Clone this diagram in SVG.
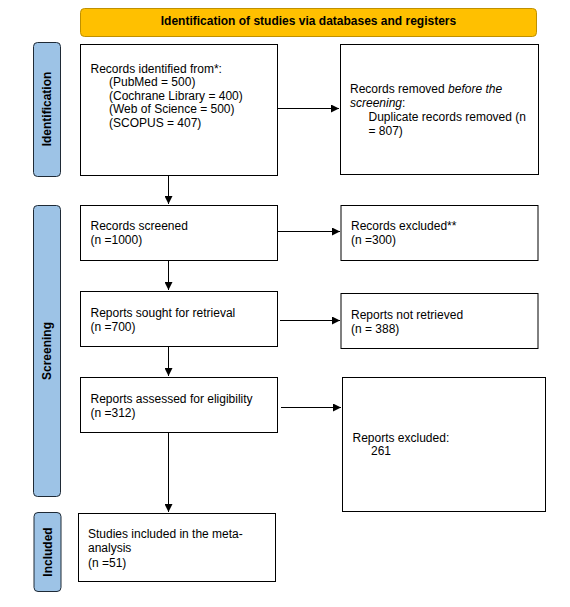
<svg xmlns="http://www.w3.org/2000/svg" width="570" height="607" viewBox="0 0 570 607">
<style>
text{font-family:"Liberation Sans",Arial,sans-serif;font-size:12px;fill:#000}
.b{font-weight:bold}
.box{fill:#fff;stroke:#000;stroke-width:1}
.side{fill:#9DC3E6;stroke:#1F2A36;stroke-width:1}
.hdr{fill:#FFC000;stroke:#BF9000;stroke-width:1}
.c{stroke:#000;stroke-width:1;fill:none;marker-end:url(#ah)}
</style>
<defs>
<marker id="ah" viewBox="0 0 10 10" refX="10" refY="5" markerWidth="9" markerHeight="8" markerUnits="userSpaceOnUse" orient="auto">
<path d="M0,0 L10,5 L0,10 z" fill="#000"/>
</marker>
</defs>
<g id="header">
<rect class="hdr" x="80.5" y="8.5" width="456" height="28" rx="4"/>
<text class="b" x="308.5" y="25" text-anchor="middle">Identification of studies via databases and registers</text>
</g>
<g id="side-identification">
<rect class="side" x="33.5" y="42.5" width="27" height="134" rx="4"/>
<text class="b" transform="translate(51,109) rotate(-90)" text-anchor="middle">Identification</text>
</g>
<g id="side-screening">
<rect class="side" x="33.5" y="205.5" width="27" height="291" rx="4"/>
<text class="b" transform="translate(51,351) rotate(-90)" text-anchor="middle">Screening</text>
</g>
<g id="side-included">
<rect class="side" x="34" y="512.5" width="27" height="79" rx="4"/>
<text class="b" transform="translate(51.5,552) rotate(-90)" text-anchor="middle">Included</text>
</g>
<g id="records-identified">
<rect class="box" x="80.5" y="44.5" width="197" height="131"/>
<text x="90.5" y="72.5">Records identified from*:</text>
<text x="109" y="86">(PubMed = 500)</text>
<text x="109" y="99.5">(Cochrane Library = 400)</text>
<text x="109" y="113">(Web of Science = 500)</text>
<text x="109" y="126.5">(SCOPUS = 407)</text>
</g>
<g id="records-removed">
<rect class="box" x="340.5" y="44.5" width="198" height="130"/>
<text x="350" y="92.5">Records removed <tspan font-style="italic">before the</tspan></text>
<text x="350" y="106.5"><tspan font-style="italic">screening</tspan>:</text>
<text x="368.5" y="120.5">Duplicate records removed (n</text>
<text x="368.5" y="134.5">= 807)</text>
</g>
<g id="records-screened">
<rect class="box" x="80.5" y="205.5" width="197" height="55"/>
<text x="90.5" y="229.5">Records screened</text>
<text x="90.5" y="243.5">(n =1000)</text>
</g>
<g id="records-excluded">
<rect class="box" x="341" y="205.5" width="197" height="55"/>
<text x="351" y="229.5">Records excluded**</text>
<text x="351" y="243.5">(n =300)</text>
</g>
<g id="reports-sought">
<rect class="box" x="80.5" y="291.5" width="197" height="55"/>
<text x="90.5" y="316.5">Reports sought for retrieval</text>
<text x="90.5" y="330.5">(n =700)</text>
</g>
<g id="reports-not-retrieved">
<rect class="box" x="341" y="293.5" width="197" height="55"/>
<text x="351" y="318.5">Reports not retrieved</text>
<text x="351" y="332.5">(n = 388)</text>
</g>
<g id="reports-assessed">
<rect class="box" x="80.5" y="377.5" width="197" height="55"/>
<text x="90.5" y="402.5">Reports assessed for eligibility</text>
<text x="90.5" y="417">(n =312)</text>
</g>
<g id="reports-excluded">
<rect class="box" x="342.5" y="377.5" width="203" height="134"/>
<text x="352.5" y="441.5">Reports excluded:</text>
<text x="371" y="454.5">261</text>
</g>
<g id="studies-included">
<rect class="box" x="78.5" y="513.5" width="197" height="68"/>
<text x="88" y="537.5">Studies included in the meta-</text>
<text x="88" y="551.5">analysis</text>
<text x="88" y="566.5">(n =51)</text>
</g>
<g id="connectors">
<line class="c" x1="278" y1="108.5" x2="339" y2="108.5"/>
<line class="c" x1="168.5" y1="176" x2="168.5" y2="204"/>
<line class="c" x1="278" y1="231.5" x2="340" y2="231.5"/>
<line class="c" x1="168.5" y1="261" x2="168.5" y2="290"/>
<line class="c" x1="280" y1="320.5" x2="340" y2="320.5"/>
<line class="c" x1="168.5" y1="347" x2="168.5" y2="376"/>
<line class="c" x1="281" y1="407.5" x2="341" y2="407.5"/>
<line class="c" x1="168.5" y1="433" x2="168.5" y2="512"/>
</g>
</svg>
